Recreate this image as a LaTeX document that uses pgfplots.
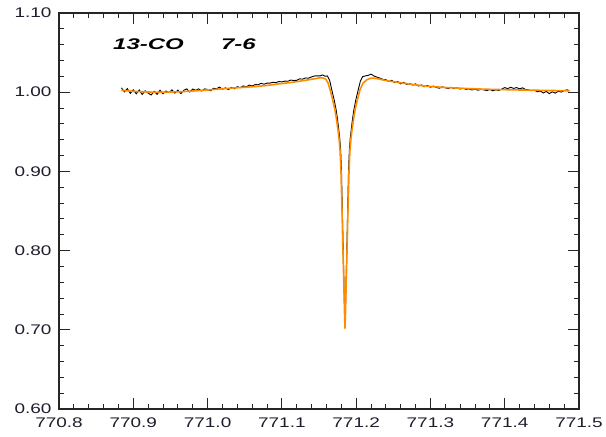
\documentclass[border=0pt]{standalone}
\usepackage{pgfplots}
\pgfplotsset{compat=1.18}
\usepackage{fontspec}
\setmainfont{Liberation Sans}
\newfontfamily\tickfont[FakeStretch=1.36]{Liberation Sans}
\newfontfamily\titlefont[FakeStretch=1.55]{Liberation Sans}
\definecolor{fitorange}{RGB}{255,140,0}
\definecolor{labcol}{RGB}{30,30,45}
\begin{document}
\begin{tikzpicture}
\useasboundingbox (-59bp,-28bp) rectangle (547bp,409bp);
\begin{axis}[
  scale only axis, width=520bp, height=396bp,
  xmin=770.8, xmax=771.5, ymin=0.6, ymax=1.1,
  xtick={770.8,770.9,771.0,771.1,771.2,771.3,771.4,771.5},
  xticklabels={770.8,770.9,771.0,771.1,771.2,771.3,771.4,771.5},
  ytick={0.6,0.7,0.8,0.9,1.0,1.1},
  yticklabels={0.60,0.70,0.80,0.90,1.00,1.10},
  minor x tick num=4, minor y tick num=4,
  tick align=inside, major tick length=11bp, minor tick length=5bp,
  axis line style={line width=1.1bp, black!85},
  tick style={line width=0.9bp, black!85},
  ticklabel style={font=\tickfont\fontsize{14}{16}\selectfont, text=labcol},
  xticklabel style={yshift=-5bp},
  yticklabel style={xshift=-4bp},
  clip=true,
]
\addplot[black, line width=0.9bp] coordinates {
(770.884,1.0055)(770.888,1.0005)(770.892,1.0045)(770.896,0.9985)(770.900,1.0030)
(770.904,0.9980)(770.908,1.0028)(770.912,0.9972)(770.916,1.0018)(770.920,0.9988)
(770.924,0.9965)(770.928,1.0010)(770.932,0.9972)(770.936,1.0025)(770.940,0.9980)
(770.944,1.0015)(770.948,0.9995)(770.952,1.0030)(770.956,0.9988)(770.960,1.0026)
(770.964,0.9982)(770.968,1.0024)(770.972,1.0042)(770.976,1.0002)(770.980,1.0040)
(770.984,1.0024)(770.988,1.0042)(770.992,1.0015)(770.996,1.0042)(771.000,1.0035)
(771.004,1.0018)(771.008,1.0050)(771.012,1.0043)(771.016,1.0065)(771.020,1.0038)
(771.024,1.0055)(771.028,1.0033)(771.032,1.0060)(771.036,1.0043)(771.040,1.0070)
(771.044,1.0057)(771.048,1.0079)(771.052,1.0067)(771.056,1.0090)(771.060,1.0078)
(771.064,1.0096)(771.068,1.0094)(771.072,1.0112)(771.076,1.0101)(771.080,1.0115)
(771.084,1.0115)(771.088,1.0125)(771.092,1.0120)(771.096,1.0135)(771.100,1.0130)
(771.104,1.0140)(771.108,1.0138)(771.112,1.0153)(771.116,1.0148)(771.120,1.0149)
(771.124,1.0169)(771.128,1.0165)(771.132,1.0180)(771.136,1.0177)(771.140,1.0193)
(771.144,1.0205)(771.148,1.0206)(771.152,1.0207)(771.155,1.0218)(771.158,1.0202)
(771.1613,1.0205)(771.1643,1.0150)(771.1672,1.0030)(771.1705,0.9900)(771.1731,0.9775)
(771.1749,0.9660)(771.1767,0.9520)(771.1780,0.9410)(771.1791,0.9270)(771.1802,0.9030)
(771.1811,0.8640)(771.1823,0.8130)(771.1838,0.7500)(771.1850,0.7050)(771.1862,0.7500)
(771.1877,0.8130)(771.1889,0.8640)(771.1898,0.9030)(771.1909,0.9270)(771.1920,0.9410)
(771.1933,0.9520)(771.1951,0.9660)(771.1969,0.9775)(771.1995,0.9900)(771.2028,1.0030)
(771.2057,1.0140)(771.2087,1.0195)(771.212,1.0205)(771.216,1.0212)(771.220,1.0228)
(771.224,1.0205)(771.228,1.0190)(771.232,1.0178)(771.236,1.0162)(771.240,1.0158)
(771.244,1.0135)(771.248,1.0150)(771.252,1.0120)(771.256,1.0135)(771.260,1.0105)
(771.264,1.0125)(771.268,1.0098)(771.272,1.0110)(771.276,1.0090)(771.280,1.0105)
(771.284,1.0078)(771.288,1.0092)(771.292,1.0070)(771.296,1.0085)(771.300,1.0062)
(771.304,1.0078)(771.308,1.0060)(771.312,1.0050)(771.316,1.0068)(771.320,1.0055)
(771.324,1.0048)(771.328,1.0062)(771.332,1.0045)(771.336,1.0055)(771.340,1.0040)
(771.344,1.0050)(771.348,1.0035)(771.352,1.0042)(771.356,1.0028)(771.360,1.0040)
(771.364,1.0025)(771.368,1.0035)(771.372,1.0030)(771.376,1.0020)(771.380,1.0035)
(771.384,1.0018)(771.388,1.0030)(771.392,1.0022)(771.396,1.0040)(771.400,1.0058)
(771.404,1.0045)(771.408,1.0062)(771.412,1.0048)(771.416,1.0058)(771.420,1.0042)
(771.424,1.0055)(771.428,1.0035)(771.432,1.0030)(771.436,1.0018)(771.440,1.0025)
(771.444,1.0005)(771.448,1.0015)(771.452,0.9990)(771.456,1.0010)(771.460,0.9982)
(771.464,1.0005)(771.468,0.9988)(771.472,1.0012)(771.476,1.0002)(771.480,1.0020)
(771.484,1.0030)(771.487,1.0018)
};
\addplot[fitorange, line width=1.6bp, line join=round] coordinates {
(770.884,1.0023)(770.900,1.0012)(770.915,1.0004)(770.930,1.0000)(770.945,1.0001)
(770.960,1.0005)(770.975,1.0012)(770.990,1.0021)(771.005,1.0032)(771.020,1.0043)
(771.035,1.0053)(771.050,1.0062)(771.065,1.0072)(771.080,1.0085)(771.095,1.0104)
(771.110,1.0120)(771.122,1.0136)(771.133,1.0152)(771.142,1.0166)(771.148,1.0176)
(771.151,1.0182)(771.155,1.0180)(771.159,1.0165)(771.162,1.0120)(771.165,1.0030)
(771.1685,0.9900)(771.1715,0.9775)(771.1735,0.9660)(771.1756,0.9520)(771.1770,0.9410)
(771.1783,0.9270)(771.1795,0.9030)(771.1806,0.8640)(771.1813,0.8380)(771.1819,0.8130)
(771.1828,0.7800)(771.1837,0.7500)(771.1844,0.7200)(771.1850,0.7020)(771.1856,0.7200)
(771.1863,0.7500)(771.1872,0.7800)(771.1881,0.8130)(771.1887,0.8380)(771.1894,0.8640)
(771.1905,0.9030)(771.1917,0.9270)(771.1930,0.9410)(771.1944,0.9520)(771.1965,0.9660)
(771.1985,0.9775)(771.2015,0.9900)(771.2052,1.0030)(771.209,1.0110)(771.214,1.0155)
(771.219,1.0175)(771.223,1.0178)(771.230,1.0168)(771.236,1.0155)(771.245,1.0140)
(771.255,1.0126)(771.265,1.0112)(771.280,1.0092)(771.295,1.0075)(771.310,1.0066)
(771.325,1.0057)(771.340,1.0050)(771.355,1.0044)(771.370,1.0039)(771.385,1.0035)
(771.400,1.0032)(771.420,1.0028)(771.440,1.0025)(771.460,1.0022)(771.487,1.0018)
};
\node[anchor=base west, inner sep=0pt, font=\titlefont\bfseries\itshape\fontsize{15.5}{18}\selectfont] at (axis cs:770.8727,1.0545) {13-CO};
\node[anchor=base west, inner sep=0pt, font=\titlefont\bfseries\itshape\fontsize{15.5}{18}\selectfont] at (axis cs:771.0180,1.0545) {7-6};
\end{axis}
\end{tikzpicture}
\end{document}
